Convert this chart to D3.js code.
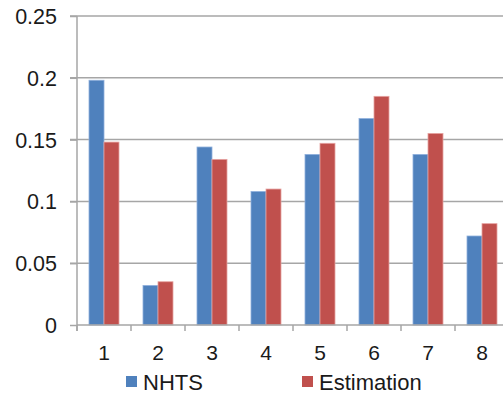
<!DOCTYPE html>
<html lang="en">
  <head>
    <meta charset="UTF-8" />
    <title>NHTS vs Estimation</title>
    <style>
      body { margin: 0; background: #fff; }
      text { font-family: "Liberation Sans", Arial, sans-serif; fill: #1a1a1a; }
      .grid line { stroke: #a6a6a6; stroke-width: 1.5; }
      .axis path, .axis line { stroke: #a6a6a6; stroke-width: 1.5; }
    </style>
  </head>
  <body>
    <svg id="chart" width="503" height="397"></svg>
    <script src="https://cdn.jsdelivr.net/npm/d3@7"></script>
    <script>
      // data
      const categories = ["1", "2", "3", "4", "5", "6", "7", "8"];
      const nhts = [0.198, 0.032, 0.144, 0.108, 0.138, 0.167, 0.138, 0.072];
      const estimation = [0.148, 0.035, 0.134, 0.110, 0.147, 0.185, 0.155, 0.082];
      const yTicks = [0, 0.05, 0.1, 0.15, 0.2, 0.25];
      const seriesNames = ["NHTS", "Estimation"];
      const colors = ["#4f81bd", "#c0504d"];

      const svg = d3.select("#chart");
      const plotLeft = 77, plotRight = 509, plotTop = 16, plotBottom = 325;

      const x = d3.scaleBand().domain(categories).range([plotLeft, plotRight]);
      const xSub = d3.scaleBand().domain(seriesNames).range([0, 30]);
      const y = d3.scaleLinear().domain([0, 0.25]).range([plotBottom, plotTop]);

      // gridlines
      svg.append("g").attr("class", "grid")
        .selectAll("line").data(yTicks.slice(1)).join("line")
        .attr("x1", plotLeft - 7).attr("x2", 503)
        .attr("y1", d => y(d)).attr("y2", d => y(d));

      // y axis
      const yAxis = svg.append("g").attr("class", "axis")
        .attr("transform", `translate(${plotLeft},0)`)
        .call(d3.axisLeft(y).tickValues(yTicks).tickSize(7).tickSizeOuter(0)
          .tickFormat(d => String(d)));
      yAxis.select(".domain").attr("d", `M0,${plotTop}V${plotBottom + 6}`);
      yAxis.selectAll("text").attr("x", -20).attr("dy", "0.35em")
        .style("font-size", "21.5px");

      // bars
      const rows = categories.map((c, i) => ({ c, vals: [nhts[i], estimation[i]] }));
      const groups = svg.append("g").selectAll("g").data(rows).join("g")
        .attr("transform", d => `translate(${x(d.c) + (x.bandwidth() - 30) / 2},0)`);
      groups.selectAll("rect")
        .data(d => d.vals.map((v, k) => ({ v, k })))
        .join("rect")
        .attr("x", d => xSub(seriesNames[d.k]))
        .attr("width", xSub.bandwidth())
        .attr("y", d => y(d.v))
        .attr("height", d => y(0) - y(d.v))
        .attr("fill", d => colors[d.k])
        .attr("stroke", d => d.k === 0 ? "#8fb0dc" : "#e6a3a1")
        .attr("stroke-width", 0.8);

      // x axis
      const xAxis = svg.append("g").attr("class", "axis")
        .attr("transform", `translate(0,${plotBottom})`)
        .call(d3.axisBottom(x).tickSize(0).tickSizeOuter(0));
      xAxis.select(".domain").attr("d", `M${plotLeft},0H503`);
      xAxis.selectAll("text").attr("y", 28).attr("dy", "0.35em")
        .style("font-size", "21px");
      // category boundary ticks
      xAxis.append("g").selectAll("line")
        .data(categories).join("line")
        .attr("x1", d => x(d)).attr("x2", d => x(d))
        .attr("y1", 0).attr("y2", 6);

      // legend
      const legend = svg.append("g").selectAll("g").data(seriesNames).join("g")
        .attr("transform", (d, i) => `translate(${[126, 302][i]},376)`);
      legend.append("rect").attr("width", 11).attr("height", 11)
        .attr("fill", (d, i) => colors[i]);
      legend.append("text").attr("x", 17).attr("y", 14)
        .style("font-size", "22px").text(d => d);
    </script>
  </body>
</html>
